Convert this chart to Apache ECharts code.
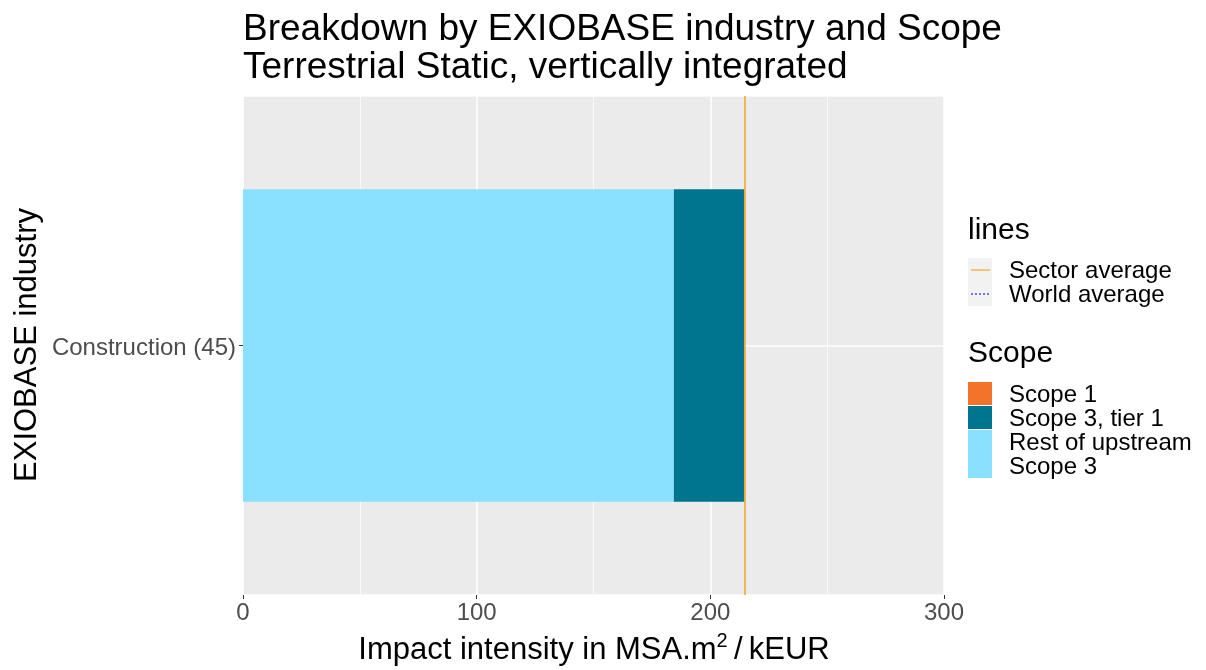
<!DOCTYPE html>
<html><head><meta charset="utf-8">
<script src="https://cdn.jsdelivr.net/npm/echarts@6/dist/echarts.min.js"></script>
<style>html,body{margin:0;padding:0;background:#fff}#c{width:1206px;height:670px}</style>
</head><body><div id="c"></div>
<script>
const categories = ['Construction (45)'];
const restOfUpstream = [184.4];
const scope3Tier1 = [30.0];
const scope1 = [0.3];
const sectorAverage = 214.8;
const xTicks = [0, 100, 200, 300];
const scopeNames = ['Scope 1', 'Scope 3, tier 1', 'Rest of upstream\nScope 3'];
const lineNames = ['Sector average', 'World average'];

const C_S1 = '#F37329', C_T1 = '#00758F', C_REST = '#89E0FF', C_SECTOR = '#F5A623', C_WORLD = '#2222DD';
const FONT = 'Liberation Sans, Arial, sans-serif';

const chart = echarts.init(document.getElementById('c'), null, {renderer: 'canvas'});
const gridL = 243, gridR = 262, gridT = 96, gridB = 75;

chart.setOption({
  animation: false,
  textStyle: {fontFamily: FONT},
  grid: {left: gridL, right: gridR, top: gridT, bottom: gridB, show: true, backgroundColor: '#EBEBEB', borderWidth: 0},
  xAxis: {
    type: 'value', min: xTicks[0], max: xTicks[xTicks.length - 1], interval: 100,
    axisLine: {show: false},
    axisTick: {show: true, length: 4, lineStyle: {color: '#333', width: 1}},
    axisLabel: {color: '#4D4D4D', fontSize: 24, margin: 6, fontFamily: FONT},
    splitLine: {show: true, lineStyle: {color: '#fff', width: 1.5}},
    minorTick: {show: false, splitNumber: 2},
    minorSplitLine: {show: true, lineStyle: {color: '#fff', width: 0.7}}
  },
  yAxis: [
    {
      type: 'category', data: categories,
      axisLine: {show: false},
      axisTick: {show: true, alignWithLabel: true, length: 4, lineStyle: {color: '#333', width: 1}},
      axisLabel: {
        color: '#4D4D4D', fontSize: 24, margin: 7, fontFamily: FONT,
        formatter: v => '{t|' + v + '}',
        rich: {t: {fontSize: 24, color: '#4D4D4D', fontFamily: FONT, padding: [6, 0, 0, 0]}}
      },
      splitLine: {show: false}
    },
    {
      // helper axis: draws the horizontal grid line through the category centre
      type: 'value', min: 0, max: 2, interval: 1, position: 'left',
      axisLine: {show: false}, axisTick: {show: false}, axisLabel: {show: false},
      splitLine: {show: true, lineStyle: {color: '#fff', width: 1.5}}
    }
  ],
  series: [
    {type: 'bar', name: 'Rest of upstream Scope 3', stack: 's', data: restOfUpstream, barWidth: '62.6%', itemStyle: {color: C_REST}, z: 2},
    {type: 'bar', name: 'Scope 3, tier 1', stack: 's', data: scope3Tier1, barWidth: '62.6%', itemStyle: {color: C_T1}, z: 2},
    {
      type: 'bar', name: 'Scope 1', stack: 's', data: scope1, barWidth: '62.6%', itemStyle: {color: C_S1}, z: 3,
      markLine: {
        silent: true, symbol: 'none', label: {show: false},
        lineStyle: {color: C_SECTOR, width: 1.5, type: 'solid'},
        data: [{xAxis: sectorAverage}]
      }
    }
  ],
  graphic: [
    {type: 'text', x: 243, y: 30, style: {text: 'Breakdown by EXIOBASE industry and Scope', font: '37px ' + FONT, fill: '#000', verticalAlign: 'middle'}},
    {type: 'text', x: 243, y: 68, style: {text: 'Terrestrial Static, vertically integrated', font: '37px ' + FONT, fill: '#000', verticalAlign: 'middle'}},
    {type: 'text', x: 594, y: 650, style: {text: '{a|Impact intensity in MSA.m}{s|2}{a|\u2009/\u2009kEUR}', rich: {a: {font: '31px ' + FONT, fill: '#000'}, s: {font: '20px ' + FONT, fill: '#000', padding: [0, 0, 17, 0]}}, align: 'center', verticalAlign: 'middle'}},
    {type: 'text', x: 27, y: 345, rotation: Math.PI / 2, style: {text: 'EXIOBASE industry', font: '31px ' + FONT, fill: '#000', align: 'center', verticalAlign: 'middle'}},
    // lines legend
    {type: 'text', x: 968, y: 231, style: {text: 'lines', font: '30px ' + FONT, fill: '#000', verticalAlign: 'middle'}},
    {type: 'rect', shape: {x: 968, y: 258, width: 24, height: 48}, style: {fill: '#F2F2F2'}},
    {type: 'line', shape: {x1: 971, y1: 270, x2: 990, y2: 270}, style: {stroke: C_SECTOR, lineWidth: 1.2}},
    {type: 'line', shape: {x1: 971, y1: 294, x2: 990, y2: 294}, style: {stroke: C_WORLD, lineWidth: 1.2, lineDash: [2, 2]}},
    {type: 'text', x: 1009, y: 271, style: {text: lineNames[0], font: '24px ' + FONT, fill: '#000', verticalAlign: 'middle'}},
    {type: 'text', x: 1009, y: 295, style: {text: lineNames[1], font: '24px ' + FONT, fill: '#000', verticalAlign: 'middle'}},
    // scope legend
    {type: 'text', x: 968, y: 354, style: {text: 'Scope', font: '30px ' + FONT, fill: '#000', verticalAlign: 'middle'}},
    {type: 'rect', shape: {x: 968, y: 382, width: 24, height: 23}, style: {fill: C_S1}},
    {type: 'rect', shape: {x: 968, y: 406, width: 24, height: 23}, style: {fill: C_T1}},
    {type: 'rect', shape: {x: 968, y: 430, width: 24, height: 48}, style: {fill: C_REST}},
    {type: 'text', x: 1009, y: 395, style: {text: scopeNames[0], font: '24px ' + FONT, fill: '#000', verticalAlign: 'middle'}},
    {type: 'text', x: 1009, y: 419, style: {text: scopeNames[1], font: '24px ' + FONT, fill: '#000', verticalAlign: 'middle'}},
    {type: 'text', x: 1009, y: 455, style: {text: scopeNames[2], font: '24px ' + FONT, fill: '#000', verticalAlign: 'middle', lineHeight: 24}}
  ]
});
</script></body></html>
